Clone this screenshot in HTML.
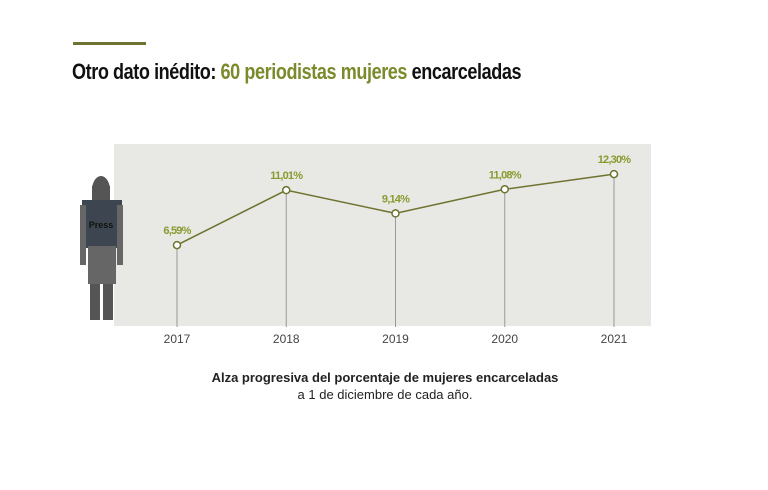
<!DOCTYPE html>
<html><head><meta charset="utf-8"><style>
body{margin:0;width:768px;height:490px;background:#fff;overflow:hidden;font-family:"Liberation Sans",sans-serif}
.rule{position:absolute;left:73px;top:42px;width:73px;height:3px;background:#6f7330}
.title{position:absolute;left:72px;top:59px;font-family:"Liberation Sans Narrow","Liberation Sans",sans-serif;font-weight:bold;font-size:22px;letter-spacing:-0.5px;color:#111;transform:scaleX(0.82);transform-origin:left}
.title span{color:#7a8a2c}
.cap{position:absolute;left:0;width:770px;text-align:center;font-size:13px;color:#222}
</style></head><body>
<div class="rule"></div>
<div class="title">Otro dato inédito: <span>60 periodistas mujeres</span> encarceladas</div>
<svg width="768" height="490" style="position:absolute;left:0;top:0" id="chart">
<rect x="114" y="144" width="537" height="182" fill="#e8e8e4"/>
<g>
<ellipse cx="101" cy="190" rx="9" ry="14" fill="#555"/>
<rect x="92" y="186" width="18" height="16" fill="#555"/>
<rect x="82" y="200" width="40" height="48" fill="#3d4650"/>
<rect x="80" y="205" width="6" height="60" fill="#666"/>
<rect x="117" y="205" width="6" height="60" fill="#666"/>
<rect x="88" y="246" width="28" height="38" fill="#666"/>
<rect x="90" y="284" width="10" height="36" fill="#555"/>
<rect x="103" y="284" width="10" height="36" fill="#555"/>
<text x="101" y="228" font-size="9" text-anchor="middle" fill="#111" font-weight="bold">Press</text>
</g>
<g id="marks"></g>
</svg>
<div class="cap" style="top:370px;font-weight:bold">Alza progresiva del porcentaje de mujeres encarceladas</div>
<div class="cap" style="top:387px">a 1 de diciembre de cada año.</div>
<script>
const years=["2017","2018","2019","2020","2021"];
const values=[6.59,11.01,9.14,11.08,12.30];
const labels=["6,59%","11,01%","9,14%","11,08%","12,30%"];
const ns="http://www.w3.org/2000/svg";
const g=document.getElementById("marks");
const xS=i=>177+i*109.25;
const yS=v=>327-v*12.43;
function mk(t,a){const e=document.createElementNS(ns,t);for(const k in a)e.setAttribute(k,a[k]);g.appendChild(e);return e;}
values.forEach((v,i)=>{
 const l=mk("line",{x1:xS(i),x2:xS(i),y1:yS(v),y2:327,stroke:"#999","stroke-width":1});
 
 
 const t=mk("text",{x:xS(i),y:343,"font-size":12,"text-anchor":"middle",fill:"#444"});
 t.textContent=years[i];
 
 
});
const p=mk("polyline",{points:values.map((v,i)=>xS(i)+","+yS(v)).join(" "),fill:"none",stroke:"#6f7330","stroke-width":1.5});


values.forEach((v,i)=>{
 const c=mk("circle",{cx:xS(i),cy:yS(v),r:3.5,fill:"#fff",stroke:"#6f7330","stroke-width":1.5});
 
 
 const t=mk("text",{x:xS(i),y:yS(v)-11,"font-size":11,"font-weight":"bold","text-anchor":"middle",fill:"#8a9a30","letter-spacing":"-0.8"});
 t.textContent=labels[i];
 
 
});
</script>
</body></html>
